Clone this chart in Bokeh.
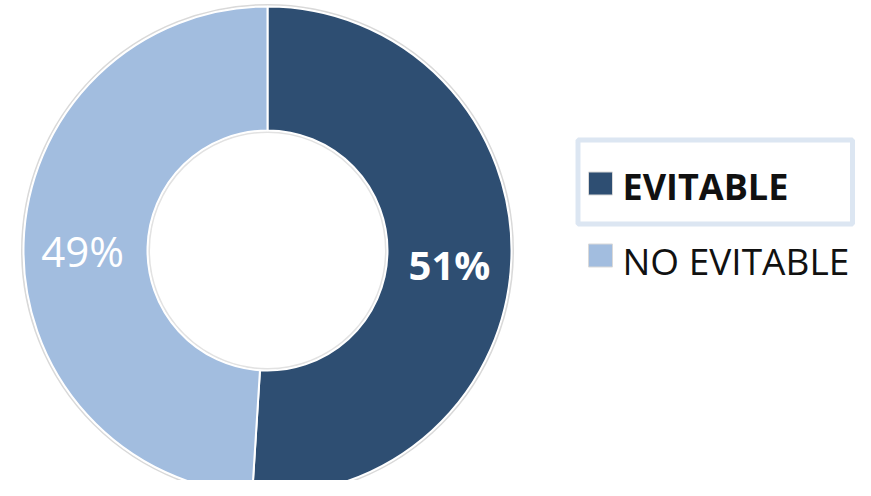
import numpy as np
from bokeh.plotting import figure
from bokeh.models import Range1d
from bokeh.core.properties import value
from bokeh.embed import file_html
from bokeh.resources import INLINE

categories = ["EVITABLE", "NO EVITABLE"]
values = [51, 49]
labels = ["51%", "49%"]
colors = ["#2E4E72", "#A2BDDF"]

W, H = 855, 480
p = figure(width=W, height=H, output_backend="svg", toolbar_location=None,
           x_range=Range1d(0, W), y_range=Range1d(0, H), min_border=0)
p.axis.visible = False
p.grid.visible = False
p.outline_line_color = None
p.background_fill_color = "white"

cx, cy = 267, 230
r_out, r_in = 244, 120

vals = np.array(values, dtype=float)
frac = vals / vals.sum()
ends = np.pi / 2 - 2 * np.pi * np.cumsum(frac)
starts = np.concatenate([[np.pi / 2], ends[:-1]])

# subtle shadow rings
p.circle(x=[cx], y=[cy], radius=r_out + 1.5, fill_color=None, line_color="#bfbfbf", line_width=2, line_alpha=0.6)
p.circle(x=[cx], y=[cy], radius=r_in - 1.5, fill_color=None, line_color="#cfcfcf", line_width=2, line_alpha=0.6)

p.annular_wedge(x=cx, y=cy, inner_radius=r_in, outer_radius=r_out,
                start_angle=list(starts), end_angle=list(ends), direction="clock",
                fill_color=colors, line_color="white", line_width=2)

mids = (starts + ends) / 2
rm = (r_in + r_out) / 2
lx = cx + rm * np.cos(mids) + np.array([0.0, -3.0])
ly = cy + rm * np.sin(mids) + np.array([-8.0, -6.0])
p.text(x=[lx[0]], y=[ly[0]], text=[labels[0]], text_color="white", text_font=value("Open Sans"),
       text_font_size="40px", text_font_style="bold", text_align="center", text_baseline="middle")
p.text(x=[lx[1]], y=[ly[1]], text=[labels[1]], text_color="white", text_font=value("Open Sans"),
       text_font_size="42px", text_align="center", text_baseline="middle")

# legend
p.quad(left=[577.5], right=[852], bottom=[480 - 223.5], top=[480 - 139.5],
       fill_color="white", line_color="#DCE6F2", line_width=5)
p.rect(x=[600, 600], y=[480 - 183, 480 - 255], width=24, height=23,
       fill_color=colors, line_color="#d9d9d9", line_width=1)
p.text(x=[622], y=[480 - 186], text=[categories[0]], text_color="#111111", text_font=value("Open Sans"),
       text_font_size="36px", text_font_style="bold", text_baseline="middle")
p.text(x=[622], y=[480 - 260], text=[categories[1]], text_color="#111111", text_font=value("Open Sans"),
       text_font_size="37px", text_baseline="middle")

open("out.html", "w").write(file_html(p, INLINE))
